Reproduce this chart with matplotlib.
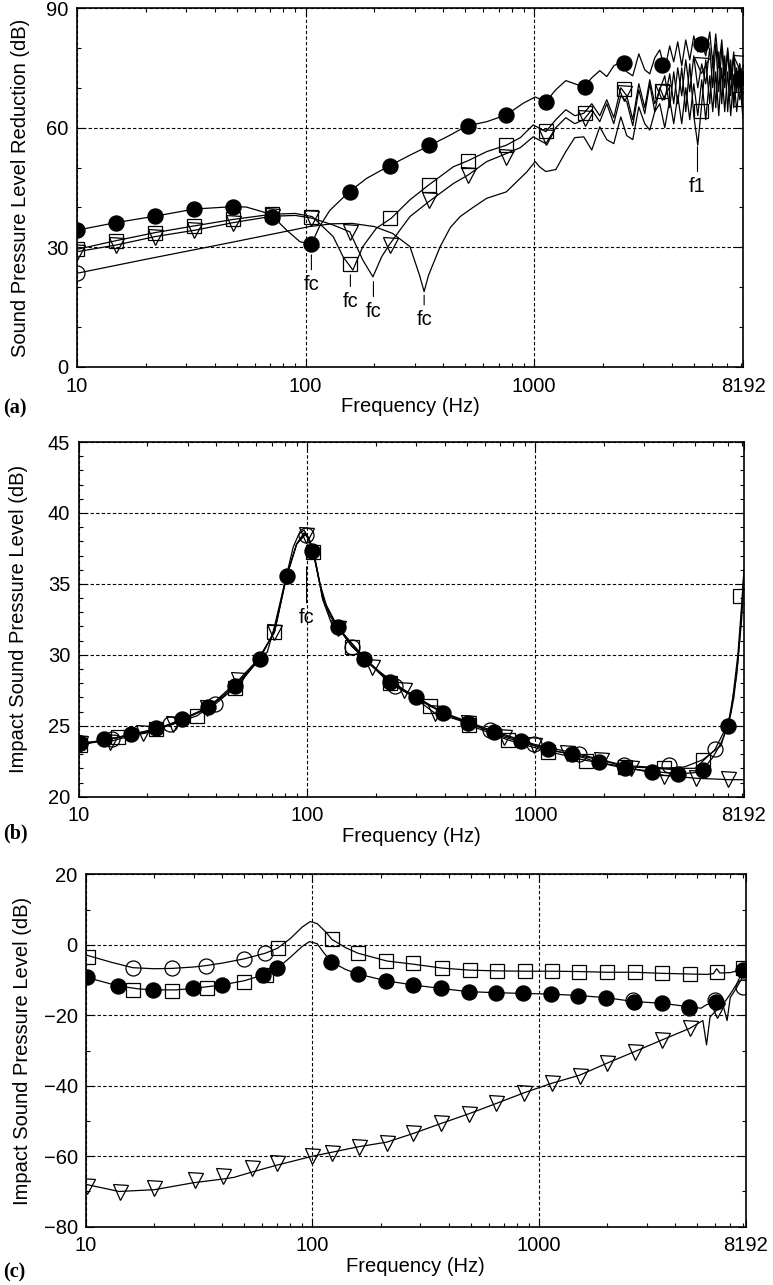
import matplotlib
matplotlib.use("Agg")
import matplotlib.pyplot as plt
from matplotlib.ticker import LogLocator, NullFormatter, MultipleLocator

plt.rcParams['font.family'] = ['Liberation Sans', 'DejaVu Sans']

# ---------------- panel (a): sound pressure level reduction ----------------
hf = [1124, 1243, 1375, 1505, 1648, 1786, 1936, 2077, 2229, 2392, 2541, 2699, 2868,
      3045, 3203, 3368, 3542, 3725, 3915, 4077, 4245, 4420, 4603, 4792, 4990, 5195,
      5406, 5628, 5860, 6040, 6226, 6417, 6613, 6815, 7023, 7238, 7461, 7689, 7925, 8192]

a_fill_f = [10, 14.8, 21.9, 32.6, 48, 55, 65, 72, 82.6, 94.5, 106, 115, 127.8, 155, 185,
            232, 286, 345, 428, 505, 620, 755, 894, 1010]
a_fill_v = [34.3, 36.2, 37.8, 39.6, 40.2, 40.1, 38.9, 37.7, 34.3, 31.4, 30.8, 35.2, 39.3,
            43.9, 47.3, 50.4, 53.1, 55.4, 58.1, 60.4, 61.5, 63.2, 66.1, 67.7]
a_fill_hf = [66.5, 69.5, 71.8, 71.0, 70.2, 72.5, 74.3, 72.8, 75.5, 76.5, 74.0, 73.0, 78.5,
             74.5, 73.5, 77.5, 79.5, 74.5, 80.5, 76.5, 81.5, 75.5, 82.0, 77.0, 83.0, 79.0,
             81.5, 78.0, 84.0, 76.0, 83.5, 75.0, 82.0, 73.0, 80.0, 72.0, 79.0, 70.0, 76.0, 64.0]

a_sq_f = [10, 14.9, 22, 32.8, 48.3, 71.4, 90, 107, 132, 146, 161, 178, 204, 237, 286, 345,
          443, 513, 620, 755, 870, 990]
a_sq_v = [29.5, 31.7, 33.7, 35.4, 37.0, 38.3, 38.5, 37.7, 32.7, 27.6, 24.3, 30.2, 34.8,
          37.3, 41.9, 45.6, 50.2, 51.7, 54.0, 55.6, 57.5, 60.7]
a_sq_hf = [59.0, 62.0, 64.5, 63.0, 63.6, 66.0, 63.0, 67.0, 62.5, 70.0, 68.0, 62.0, 71.0,
           65.0, 72.0, 66.0, 69.5, 73.0, 65.0, 74.0, 66.0, 75.0, 64.0, 76.0, 63.0, 55.6,
           66.0, 77.0, 66.0, 78.0, 65.0, 79.0, 66.0, 78.0, 64.0, 77.0, 65.0, 75.0, 67.0, 70.0]

a_tri_f = [10, 14.9, 22, 32.8, 48.3, 71.4, 90, 107, 132, 156, 178, 197, 215, 232, 260, 286,
           345, 443, 513, 620, 755, 870, 990]
a_tri_v = [28.9, 30.6, 32.7, 34.3, 36.2, 37.8, 38.0, 37.3, 35.6, 33.9, 26.8, 22.6, 27.6,
           30.6, 34.5, 37.7, 41.4, 46.0, 48.1, 51.5, 53.5, 55.0, 57.7]
a_tri_hf = [56.0, 60.0, 62.5, 61.0, 62.0, 64.5, 61.5, 66.0, 61.0, 68.0, 66.5, 60.5, 69.5,
            63.5, 71.0, 64.0, 70.0, 67.0, 73.5, 66.0, 75.0, 68.0, 77.0, 69.0, 78.0, 70.0,
            76.0, 71.0, 80.0, 70.0, 81.0, 69.0, 80.0, 70.0, 79.0, 68.0, 78.0, 69.0, 76.0, 66.0]

a_open_f = [10, 20, 40, 70, 104, 130, 160, 200, 240, 286, 315, 330, 345, 388, 430, 474,
            540, 620, 755, 928, 1010, 1055]
a_open_v = [23.5, 27.0, 30.4, 33.2, 35.2, 35.9, 36.0, 35.2, 33.5, 30.2, 23.0, 18.9, 23.0,
            30.2, 35.0, 37.7, 40.0, 42.3, 43.9, 48.9, 51.5, 50.2]
a_open_hf = [49.0, 49.5, 54.0, 57.5, 57.7, 54.4, 60.2, 57.0, 56.0, 62.7, 58.0, 57.0, 65.2,
             61.0, 59.4, 64.0, 66.0, 60.0, 67.0, 61.0, 68.0, 61.0, 70.0, 62.0, 71.0, 63.0,
             72.0, 62.0, 73.0, 64.0, 74.0, 63.0, 75.0, 64.0, 74.0, 63.0, 73.0, 64.0, 72.0, 62.3]

a_mk_f = [10, 14.8, 21.9, 32.6, 48.3, 71.4, 106, 156, 233, 345, 511, 755, 1126, 1670,
          2465, 3640, 5384, 7912]
a_fill_mk = [34.3, 36.2, 37.8, 39.6, 40.2, 37.5, 30.8, 43.9, 50.5, 55.6, 60.4, 63.2, 66.5,
             70.1, 76.1, 75.7, 81.1, 72.4]
a_sq_mk = [29.5, 31.7, 33.7, 35.4, 37.0, 38.3, 37.7, 25.7, 37.3, 45.6, 51.7, 55.6, 59.2,
           63.6, 69.6, 69.3, 64.2, 67.3]
a_tri_mk = [28.9, 30.6, 32.7, 34.3, 36.2, 37.8, 37.3, 33.9, 30.6, 41.9, 48.1, 52.7, 57.7,
            62.3, 68.6, 69.0, 75.7, 76.1]
a_open_mk_f = [10]
a_open_mk = [23.5]

# annotations: (label, frequency, value at line top, value at text centre)
a_notes = [("fc", 106, 28.1, 20.6), ("fc", 157, 23.1, 16.4), ("fc", 198, 21.4, 13.9),
           ("fc", 330, 18.0, 11.8), ("f1", 5180, 55.2, 45.2)]

# ---------------- panel (b): impact sound pressure level ----------------
b_fill_f = [10, 13, 17, 22, 28, 37, 48, 62, 67, 72, 81, 87, 92, 97, 101, 106, 110, 117, 128,
            137, 178, 230, 301, 393, 508, 660, 867, 1130, 1445, 1897, 2470, 3240, 4200, 5000,
            5400, 6000, 6500, 7000, 7400, 7700, 8000, 8192]
b_fill_v = [23.7, 24.0, 24.4, 24.8, 25.4, 26.3, 27.8, 29.7, 30.2, 32.0, 35.5, 37.6, 38.5,
            38.8, 38.3, 37.4, 36.2, 33.9, 32.2, 31.9, 29.7, 28.1, 27.05, 25.9, 25.2, 24.5,
            23.95, 23.3, 23.0, 22.4, 22.0, 21.8, 21.6, 21.7, 21.9, 22.8, 23.8, 25.0, 27.0,
            29.5, 33.0, 36.0]
b_sq_f = [10, 15, 22, 33, 48.6, 60, 72, 81, 90, 97, 101, 106, 112, 120, 137, 157, 230, 344,
          512, 758, 1130, 1670, 2480, 3670, 4500, 5400, 6500, 7200, 7700, 8000, 8192]
b_sq_v = [23.6, 24.2, 24.75, 25.7, 27.7, 29.5, 31.6, 35.4, 37.8, 38.6, 38.2, 37.3, 35.5,
          33.5, 31.9, 30.6, 28.0, 26.4, 25.05, 24.0, 23.2, 22.55, 22.1, 22.0, 22.1, 22.6,
          23.6, 26.0, 30.0, 33.5, 36.0]
b_tri_f = [10, 13.7, 19.2, 25.9, 36.5, 50, 62, 72, 81, 90, 98.6, 103, 108, 117, 137, 193,
           267, 362, 508, 730, 985, 1370, 1930, 2610, 3670, 5050, 6000, 7000, 8192]
b_tri_v = [23.8, 23.9, 24.5, 25.1, 26.2, 28.2, 29.8, 31.6, 35.4, 37.8, 38.5, 38.0, 36.8,
           34.0, 31.9, 29.2, 27.5, 25.9, 25.2, 24.2, 23.6, 23.05, 22.6, 22.0, 21.5, 21.3,
           21.25, 21.2, 21.2]
b_open_f = [10, 14, 20, 25.1, 39.5, 50, 62, 72, 81, 90, 98, 102, 107, 114, 125, 157, 243,
            400, 635, 985, 1550, 2450, 3860, 5000, 6100, 7000, 7600, 8000, 8192]
b_open_v = [23.7, 24.1, 24.5, 25.1, 26.5, 27.9, 29.7, 31.7, 35.5, 37.8, 38.6, 38.2, 37.2,
            35.0, 32.8, 30.6, 27.8, 25.9, 24.7, 23.7, 23.0, 22.2, 22.0, 22.0, 23.3, 25.2,
            28.5, 32.5, 35.5]

b_fill_mk_f = [10.1, 12.95, 16.9, 21.8, 28.2, 36.9, 48.3, 62.2, 81.3, 105.5, 137, 178, 230,
               301, 393, 508, 660, 867, 1130, 1445, 1897, 2470, 3240, 4203, 5400, 7000]
b_fill_mk = [23.76, 24.07, 24.42, 24.82, 25.45, 26.34, 27.82, 29.73, 35.55, 37.33, 31.94,
             29.68, 28.1, 27.05, 25.92, 25.17, 24.54, 23.95, 23.34, 23.0, 22.42, 22.04,
             21.76, 21.58, 21.88, 24.98]
b_sq_mk_f = [10.1, 14.9, 21.8, 32.8, 48.6, 71.8, 106.5, 157, 230, 344, 512, 758, 1130, 1670,
             2480, 3670, 5400, 7850]
b_sq_mk = [23.64, 24.23, 24.75, 25.71, 27.68, 31.63, 37.26, 30.57, 27.99, 26.39, 25.05,
           24.0, 23.17, 22.54, 22.07, 22.0, 22.59, 34.14]
b_tri_mk_f = [10.1, 13.7, 19.2, 25.9, 36.5, 50, 71.8, 98.6, 137, 193, 267, 362, 508, 730,
              985, 1370, 1930, 2610, 3670, 5050, 7000]
b_tri_mk = [23.8, 23.88, 24.47, 25.12, 26.23, 28.22, 31.63, 38.44, 31.87, 29.16, 27.52,
            25.88, 25.17, 24.23, 23.64, 23.06, 22.59, 22.0, 21.46, 21.30, 21.23]
b_open_mk_f = [10.1, 14, 25.1, 39.5, 98.6, 157, 243, 635, 985, 1550, 2450, 3860, 6100]
b_open_mk = [23.8, 24.1, 25.12, 26.53, 38.44, 30.57, 27.8, 24.7, 23.7, 23.0, 22.23, 22.23,
             23.34]

b_notes = [("fc", 99.5, 36.2, 32.6)]

# ---------------- panel (c): impact sound pressure level ----------------
c_upper_f = [10, 13, 16.1, 20, 24, 30, 33.9, 40, 49.9, 61.9, 70, 80, 90, 97.8, 105, 115,
             122, 140, 159, 213, 278, 372, 494, 652, 867, 1140, 1510, 2000, 2650, 3500,
             4640, 5500, 5900, 6100, 6300, 7000, 7500, 7940, 8192]
c_upper_v = [-2.9, -5.0, -6.5, -6.8, -6.7, -6.3, -5.9, -5.2, -4.0, -2.4, -1.0, 1.8, 5.0,
             6.6, 6.0, 3.5, 1.5, -0.8, -2.4, -4.6, -5.5, -6.6, -7.2, -7.4, -7.5, -7.5,
             -7.6, -7.8, -7.8, -8.1, -8.3, -8.4, -8.2, -6.8, -8.0, -7.9, -7.4, -7.0, -7.0]
c_lower_f = [10, 13.9, 17, 19.8, 25, 29.6, 39.8, 50, 60.4, 69.9, 80, 90, 97, 105, 112, 121,
             140, 159, 211, 278, 370, 489, 649, 853, 1128, 1496, 1975, 2620, 3500, 4620,
             5200, 5500, 6060, 6500, 7000, 7500, 7960, 8192]
c_lower_v = [-9.2, -11.7, -12.5, -12.8, -12.8, -12.4, -11.4, -10.2, -8.6, -6.7, -3.5, -0.5,
             0.9, 0.3, -2.2, -4.8, -7.0, -8.3, -10.2, -11.4, -12.4, -13.3, -13.6, -13.8,
             -14.0, -14.4, -15.0, -16.1, -16.6, -17.6, -18.0, -17.0, -16.3, -17.0, -14.0,
             -11.0, -7.2, -7.0]
c_tri_f = [10, 14, 20, 30, 40, 45, 54, 70, 100, 130, 160, 213, 280, 370, 489, 650, 860,
           1140, 1515, 2000, 2650, 3500, 4640, 5300, 5500, 5700, 6100, 6500, 6780, 7000,
           7500, 8192]
c_tri_v = [-68.0, -70.0, -69.5, -67.5, -66.5, -66.0, -64.5, -62.5, -60.0, -58.5, -57.3,
           -56.0, -53.5, -50.7, -48.0, -45.0, -42.0, -39.3, -37.0, -33.6, -30.3, -27.0,
           -23.7, -21.5, -28.4, -20.5, -18.5, -17.0, -21.5, -15.0, -12.0, -7.5]

c_fill_mk_f = [10.1, 13.9, 19.8, 29.6, 39.8, 60.4, 69.9, 121, 159, 211, 278, 370, 489, 649,
               853, 1128, 1496, 1975, 2620, 3500, 4620, 6060, 7960]
c_fill_mk = [-9.2, -11.7, -12.8, -12.4, -11.4, -8.6, -6.7, -4.8, -8.3, -10.2, -11.4, -12.4,
             -13.3, -13.6, -13.8, -14.0, -14.4, -15.0, -16.1, -16.6, -17.6, -16.3, -7.2]
c_sq_mk_f = [10.2, 16.1, 24, 34.1, 50, 62.4, 70.2, 122, 159, 211, 278, 372, 494, 652, 867,
             1140, 1510, 2000, 2650, 3500, 4640, 6140, 7940]
c_sq_mk = [-3.5, -12.8, -13.0, -12.4, -10.5, -8.6, -1.0, 1.5, -2.4, -4.5, -5.3, -6.7, -7.2,
           -7.4, -7.5, -7.5, -7.6, -7.8, -7.8, -8.1, -8.3, -7.6, -6.7]
c_open_mk_f = [16.1, 24, 33.9, 49.9, 61.9, 2600, 4600, 6000, 7940]
c_open_mk = [-6.5, -6.7, -5.9, -4.0, -2.4, -15.7, -18.0, -15.7, -11.9]
c_tri_mk_f = [10.1, 14.1, 20, 30.3, 40.2, 54, 70, 100, 122, 160, 213, 279, 370, 489, 649,
              860, 1140, 1515, 2000, 2650, 3500, 4640, 6100]
c_tri_mk = [-68.5, -70.1, -69.1, -66.7, -65.6, -63.4, -62.0, -59.9, -59.0, -57.3, -56.3,
            -53.5, -50.7, -48.0, -45.0, -42.1, -39.3, -37.2, -33.6, -30.3, -27.0, -23.7, -18.5]

xticks = [10, 100, 1000, 8192]
FS = 14.5

fig = plt.figure(figsize=(7.73, 12.85), dpi=100)
W, H = 773.0, 1285.0


def make_axes(left, right, top, bottom):
    return fig.add_axes([left / W, 1 - bottom / H, (right - left) / W, (bottom - top) / H])


def style(ax, ylim, major, minor, ylabel, ylab_x):
    ax.set_xscale('log')
    ax.set_xlim(10, 8192)
    ax.set_ylim(*ylim)
    ax.set_xticks(xticks)
    ax.set_xticklabels([str(t) for t in xticks])
    ax.xaxis.set_minor_locator(LogLocator(base=10, subs=range(2, 10), numticks=20))
    ax.xaxis.set_minor_formatter(NullFormatter())
    ax.yaxis.set_major_locator(MultipleLocator(major))
    ax.yaxis.set_minor_locator(MultipleLocator(minor))
    ax.tick_params(which='both', direction='in', top=True, right=True, labelsize=FS,
                   width=0.8)
    ax.tick_params(axis='x', pad=7)
    ax.tick_params(axis='y', pad=6)
    ax.tick_params(which='major', length=6)
    ax.tick_params(which='minor', length=3)
    ax.grid(True, which='major', color='black', ls=(0, (3, 2)), lw=0.8)
    for s in ax.spines.values():
        s.set_linewidth(1.2)
    ax.set_xlabel('Frequency (Hz)', fontsize=FS, labelpad=1)
    ax.set_ylabel(ylabel, fontsize=FS)
    ax.yaxis.set_label_coords(ylab_x, 0.5)


def line(ax, f, v):
    ax.plot(f, v, color='black', lw=0.9, zorder=3)


def marks(ax, f, v, kind):
    if kind == 'fill':
        ax.plot(f, v, ls='none', marker='o', ms=10.8, mfc='black', mec='black', zorder=4)
    elif kind == 'open':
        ax.plot(f, v, ls='none', marker='o', ms=10.8, mfc='none', mec='black', mew=0.9, zorder=4)
    elif kind == 'sq':
        ax.plot(f, v, ls='none', marker='s', ms=10.2, mfc='none', mec='black', mew=0.9, zorder=4)
    else:
        ax.plot(f, v, ls='none', marker='v', ms=10.8, mfc='none', mec='black', mew=0.9, zorder=4)


def notes(ax, items):
    for label, f, top, txt in items:
        ax.annotate(label, xy=(f, top), xytext=(f, txt), ha='center', va='center',
                    fontsize=FS, zorder=5,
                    arrowprops=dict(arrowstyle='-', lw=0.8, color='black', shrinkB=0))


# panel (a)
ax1 = make_axes(77, 743, 8, 367)
style(ax1, (0, 90), 30, 10, 'Sound Pressure Level Reduction (dB)', -0.071)
line(ax1, a_open_f + hf, a_open_v + a_open_hf)
line(ax1, a_tri_f + hf, a_tri_v + a_tri_hf)
line(ax1, a_sq_f + hf, a_sq_v + a_sq_hf)
line(ax1, a_fill_f + hf, a_fill_v + a_fill_hf)
marks(ax1, a_open_mk_f, a_open_mk, 'open')
marks(ax1, a_mk_f, a_tri_mk, 'tri')
marks(ax1, a_mk_f, a_sq_mk, 'sq')
marks(ax1, a_mk_f, a_fill_mk, 'fill')
notes(ax1, a_notes)

# panel (b)
ax2 = make_axes(78.7, 744, 442, 796.7)
style(ax2, (20, 45), 5, 1, 'Impact Sound Pressure Level (dB)', -0.076)
line(ax2, b_tri_f, b_tri_v)
line(ax2, b_open_f, b_open_v)
line(ax2, b_sq_f, b_sq_v)
line(ax2, b_fill_f, b_fill_v)
marks(ax2, b_open_mk_f, b_open_mk, 'open')
marks(ax2, b_tri_mk_f, b_tri_mk, 'tri')
marks(ax2, b_sq_mk_f, b_sq_mk, 'sq')
marks(ax2, b_fill_mk_f, b_fill_mk, 'fill')
notes(ax2, b_notes)

# panel (c)
ax3 = make_axes(86, 745.7, 874.3, 1226.7)
style(ax3, (-80, 20), 20, 10, 'Impact Sound Pressure Level (dB)', -0.082)
line(ax3, c_tri_f, c_tri_v)
line(ax3, c_upper_f, c_upper_v)
line(ax3, c_lower_f, c_lower_v)
marks(ax3, c_tri_mk_f, c_tri_mk, 'tri')
marks(ax3, c_open_mk_f, c_open_mk, 'open')
marks(ax3, c_sq_mk_f, c_sq_mk, 'sq')
marks(ax3, c_fill_mk_f, c_fill_mk, 'fill')

for lab, y in [('(a)', 408), ('(b)', 833), ('(c)', 1272)]:
    fig.text(3 / W, 1 - y / H, lab, fontfamily='Liberation Serif', fontweight='bold',
             fontsize=FS, va='center', ha='left')

fig.savefig('out.png', dpi=100)
